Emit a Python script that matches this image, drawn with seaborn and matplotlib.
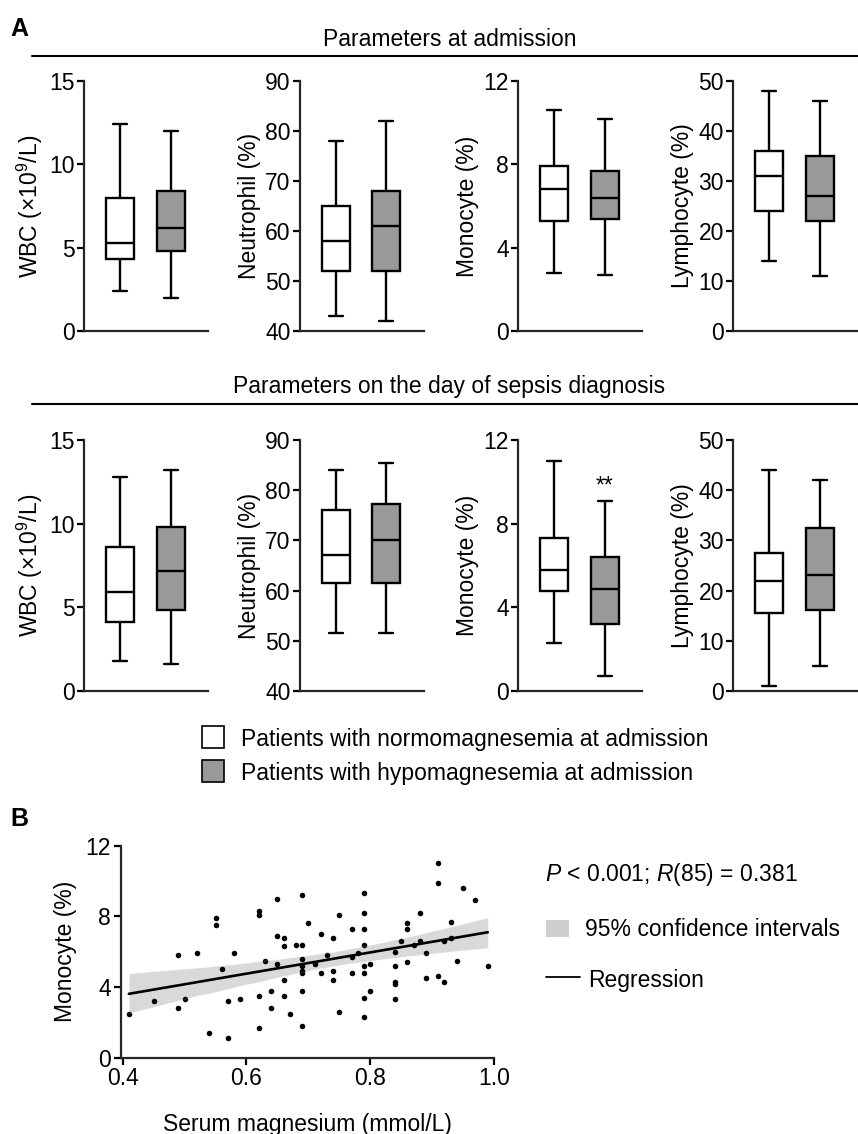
import numpy as np
import pandas as pd
import matplotlib
matplotlib.use("Agg")
import matplotlib.pyplot as plt
import seaborn as sns
from matplotlib.patches import Rectangle
from matplotlib.lines import Line2D

# Box summaries: [min, Q1, median, Q3, max]
# Parameters at admission
wbc_adm_normo = [2.4, 4.3, 5.3, 8.0, 12.4]
wbc_adm_hypo = [2.0, 4.8, 6.2, 8.4, 12.0]
neu_adm_normo = [43, 52, 58, 65, 78]
neu_adm_hypo = [42, 52, 61, 68, 82]
mono_adm_normo = [2.8, 5.3, 6.8, 7.9, 10.6]
mono_adm_hypo = [2.7, 5.4, 6.4, 7.7, 10.2]
lym_adm_normo = [14, 24, 31, 36, 48]
lym_adm_hypo = [11, 22, 27, 35, 46]

# Parameters on the day of sepsis diagnosis
wbc_sep_normo = [1.8, 4.1, 5.9, 8.6, 12.8]
wbc_sep_hypo = [1.6, 4.85, 7.2, 9.8, 13.2]
neu_sep_normo = [51.5, 61.5, 67, 76, 84.1]
neu_sep_hypo = [51.5, 61.5, 70, 77.3, 85.5]
mono_sep_normo = [2.3, 4.8, 5.8, 7.3, 11.0]
mono_sep_hypo = [0.7, 3.2, 4.9, 6.4, 9.1]
lym_sep_normo = [1.0, 15.6, 22, 27.5, 44]
lym_sep_hypo = [4.9, 16.2, 23.2, 32.5, 42]

groups = ["Patients with normomagnesemia at admission",
          "Patients with hypomagnesemia at admission"]

# Panel B: serum magnesium vs monocyte
mg = [0.41, 0.45, 0.49, 0.49, 0.50, 0.52, 0.54, 0.55, 0.55, 0.56,
      0.57, 0.57, 0.58, 0.59, 0.62, 0.62, 0.62, 0.62, 0.63, 0.64,
      0.64, 0.65, 0.65, 0.65, 0.66, 0.66, 0.66, 0.66, 0.67, 0.68,
      0.69, 0.69, 0.69, 0.69, 0.69, 0.69, 0.69, 0.69, 0.70, 0.71,
      0.72, 0.72, 0.73, 0.74, 0.74, 0.74, 0.75, 0.75, 0.77, 0.77,
      0.77, 0.78, 0.79, 0.79, 0.79, 0.79, 0.79, 0.79, 0.79, 0.79,
      0.80, 0.80, 0.84, 0.84, 0.84, 0.84, 0.84, 0.85, 0.86, 0.86,
      0.86, 0.87, 0.88, 0.88, 0.89, 0.89, 0.91, 0.91, 0.91, 0.92,
      0.92, 0.93, 0.93, 0.94, 0.95, 0.97, 0.99]
mono = [2.5, 3.2, 5.8, 2.8, 3.3, 5.9, 1.4, 7.9, 7.5, 5.0,
        1.1, 3.2, 5.9, 3.3, 8.3, 8.1, 3.5, 1.7, 5.5, 3.8,
        2.8, 9.0, 6.9, 5.3, 6.8, 6.3, 4.4, 3.5, 2.5, 6.4,
        9.2, 6.4, 5.6, 5.2, 4.9, 4.8, 3.8, 1.8, 7.6, 5.3,
        7.0, 4.8, 5.8, 6.8, 4.9, 4.4, 8.1, 2.6, 7.3, 5.7,
        4.8, 5.9, 9.3, 8.2, 7.3, 6.4, 5.2, 4.8, 3.4, 2.3,
        5.3, 3.8, 6.0, 5.2, 4.3, 4.2, 3.3, 6.6, 7.6, 7.3,
        5.4, 6.4, 8.2, 6.6, 5.9, 4.5, 11.0, 9.9, 4.6, 6.6,
        4.3, 7.7, 6.8, 5.5, 9.6, 8.9, 5.2]

W, H = 858, 1134
FS = 16.5
fill_cols = ["white", "#999999"]

sns.set_style("ticks")
plt.rcParams["font.family"] = ["Liberation Sans", "DejaVu Sans"]
plt.rcParams["mathtext.fontset"] = "custom"
plt.rcParams["mathtext.rm"] = "Liberation Sans"
plt.rcParams["mathtext.it"] = "Liberation Sans:italic"
plt.rcParams["axes.linewidth"] = 1.6
plt.rcParams["xtick.major.width"] = 1.6
plt.rcParams["ytick.major.width"] = 1.6
plt.rcParams["xtick.major.size"] = 5
plt.rcParams["ytick.major.size"] = 5
plt.rcParams["text.color"] = "black"
plt.rcParams["axes.labelcolor"] = "black"
plt.rcParams["xtick.color"] = "black"
plt.rcParams["ytick.color"] = "black"

fig = plt.figure(figsize=(W / 100, H / 100), dpi=100)


def fx(x):
    return x / W


def fy(y):
    return 1 - y / H


def add_axes_px(left, top, right, bottom):
    return fig.add_axes([fx(left), fy(bottom), (right - left) / W, (bottom - top) / H])


panels = [
    ("WBC (×10$^{9}$/L)", (0, 15), [0, 5, 10, 15]),
    ("Neutrophil (%)", (40, 90), [40, 50, 60, 70, 80, 90]),
    ("Monocyte (%)", (0, 12), [0, 4, 8, 12]),
    ("Lymphocyte (%)", (0, 50), [0, 10, 20, 30, 40, 50]),
]
rows = [
    (81, 331, [(wbc_adm_normo, wbc_adm_hypo), (neu_adm_normo, neu_adm_hypo),
               (mono_adm_normo, mono_adm_hypo), (lym_adm_normo, lym_adm_hypo)]),
    (440, 691, [(wbc_sep_normo, wbc_sep_hypo), (neu_sep_normo, neu_sep_hypo),
                (mono_sep_normo, mono_sep_hypo), (lym_sep_normo, lym_sep_hypo)]),
]
lefts = [84, 299.5, 518, 733]

for r, (top, bottom, series) in enumerate(rows):
    for i, (label, ylim, ticks) in enumerate(panels):
        ax = add_axes_px(lefts[i], top, lefts[i] + 124, bottom)
        normo, hypo = series[i]
        df = pd.DataFrame({
            "group": [groups[0]] * len(normo) + [groups[1]] * len(hypo),
            "value": normo + hypo,
        })
        sns.boxplot(data=df, x="group", y="value", hue="group", palette=fill_cols,
                    whis=(0, 100), width=0.56, linecolor="black", linewidth=1.7,
                    legend=False, ax=ax)
        ax.set_xlim(-0.72, 1.74)
        ax.set_ylim(*ylim)
        ax.set_yticks(ticks)
        ax.set_xticks([])
        ax.set_xlabel("")
        ax.set_ylabel(label, fontsize=FS, labelpad=3)
        ax.tick_params(axis="y", labelsize=FS, pad=1.5)
        sns.despine(ax=ax)
        if r == 1 and i == 2:
            ax.text(1, 9.8, "**", ha="center", va="center", fontsize=FS)

# panel letters and section headers
fig.text(fx(10), fy(36), "A", fontsize=18, fontweight="bold", va="baseline")
fig.text(fx(10), fy(826), "B", fontsize=18, fontweight="bold", va="baseline")
fig.text(fx(323), fy(45.5), "Parameters at admission", fontsize=FS, va="baseline")
fig.text(fx(233), fy(392.5), "Parameters on the day of sepsis diagnosis", fontsize=FS, va="baseline")
for yy in [56, 404]:
    fig.add_artist(Line2D([fx(32), fx(858)], [fy(yy), fy(yy)], color="black", lw=1.5))

# legend for panel A
for k, (yy, col) in enumerate([(748, fill_cols[0]), (782, fill_cols[1])]):
    fig.add_artist(Rectangle((fx(202), fy(yy)), 22 / W, 22 / H, facecolor=col,
                             edgecolor="black", lw=1.2, transform=fig.transFigure))
    fig.text(fx(241), fy(yy - 2), groups[k], fontsize=FS, va="baseline")

# panel B
axb = add_axes_px(120.7, 845.7, 494, 1057.7)
sns.regplot(x=mg, y=mono, ax=axb, color="black", ci=95, seed=0,
            scatter_kws=dict(s=16, linewidths=0, alpha=1),
            line_kws=dict(lw=1.9))
for coll in axb.collections:
    if coll.__class__.__name__ == "PolyCollection":
        coll.set_facecolor("#cfcfcf")
        coll.set_alpha(1)
        coll.set_zorder(0.5)
axb.set_xlim(0.3968, 1.0)
axb.set_ylim(0, 12)
axb.set_xticks([0.4, 0.6, 0.8, 1.0])
axb.set_xticklabels(["0.4", "0.6", "0.8", "1.0"])
axb.set_yticks([0, 4, 8, 12])
axb.tick_params(labelsize=FS, pad=2)
axb.set_xlabel("Serum magnesium (mmol/L)", fontsize=FS, labelpad=16)
axb.set_ylabel("Monocyte (%)", fontsize=FS, labelpad=6)
sns.despine(ax=axb)

fig.text(fx(545), fy(881), r"$\it{P}$ < 0.001; $\it{R}$(85) = 0.381", fontsize=FS, va="baseline")
fig.add_artist(Rectangle((fx(546), fy(937)), 23 / W, 17 / H, facecolor="#cfcfcf",
                         edgecolor="none", transform=fig.transFigure))
fig.text(fx(585), fy(936), "95% confidence intervals", fontsize=FS, va="baseline")
fig.add_artist(Line2D([fx(546), fx(580)], [fy(977), fy(977)], color="black", lw=1.3))
fig.text(fx(588), fy(987.5), "Regression", fontsize=FS, va="baseline")

fig.savefig("out.png", dpi=100)
